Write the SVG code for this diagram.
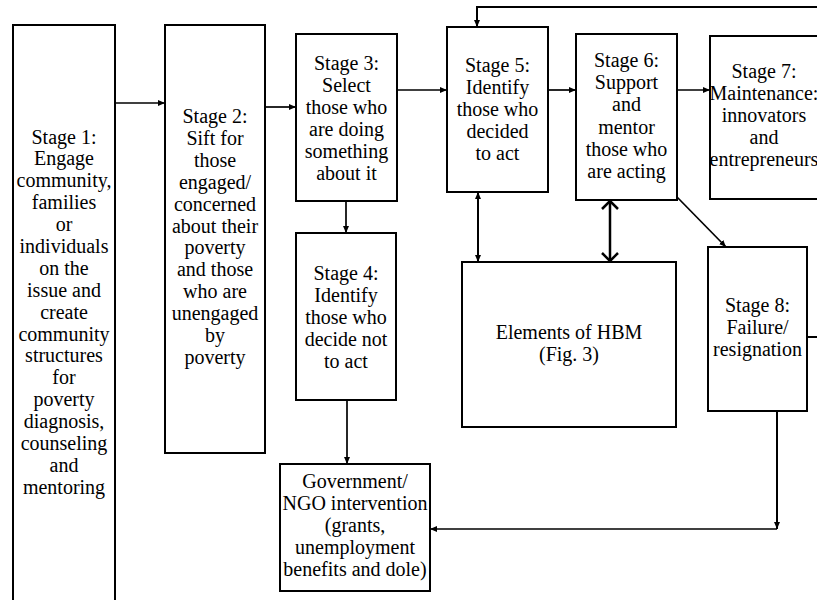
<svg xmlns="http://www.w3.org/2000/svg" width="817" height="600" viewBox="0 0 817 600">
<defs>
<marker id="ah" markerUnits="userSpaceOnUse" markerWidth="7" markerHeight="6" refX="7" refY="3" orient="auto-start-reverse">
<path d="M0,0 L7,3 L0,6 z" fill="#000"/>
</marker>
<marker id="vh" markerUnits="userSpaceOnUse" markerWidth="12" markerHeight="18" refX="10" refY="9" orient="auto-start-reverse">
<path d="M2,1 L10,9 L2,17" fill="none" stroke="#000" stroke-width="2.5"/>
</marker>
</defs>
<rect width="817" height="600" fill="#fff"/>
<g id="connectors" fill="none" stroke="#000" stroke-width="1.7">
<path d="M115,103 H165" marker-end="url(#ah)"/>
<path d="M265,107 H296" marker-end="url(#ah)"/>
<path d="M397,90 H447" marker-end="url(#ah)"/>
<path d="M346,201 V233" marker-end="url(#ah)"/>
<path d="M548,90 H576" marker-end="url(#ah)"/>
<path d="M677,90 H710" marker-end="url(#ah)"/>
<path d="M677,197 L726,247" marker-end="url(#ah)"/>
<path d="M478,192 V262" stroke-width="2" marker-start="url(#ah)" marker-end="url(#ah)"/>
<path d="M610,201 V261" stroke-width="2.5" marker-start="url(#vh)" marker-end="url(#vh)"/>
<path d="M347,400 V464" marker-end="url(#ah)"/>
<path d="M807,337 H819 V7 H477 V27" stroke-width="2" marker-end="url(#ah)"/>
<path d="M777,411 V529" stroke-width="2" marker-end="url(#ah)"/>
<path d="M777,529 H430" marker-end="url(#ah)"/>
</g>
<g font-family="Liberation Serif, serif" font-size="20" text-anchor="middle" fill="#000">
<g id="stage1">
<rect x="13" y="25" width="102" height="600" fill="#fff" stroke="#000" stroke-width="2"/>
<text x="64" y="143.5">Stage 1:<tspan x="64" dy="21.9">Engage</tspan><tspan x="64" dy="21.9">community,</tspan><tspan x="64" dy="21.9">families</tspan><tspan x="64" dy="21.9">or</tspan><tspan x="64" dy="21.9">individuals</tspan><tspan x="64" dy="21.9">on the</tspan><tspan x="64" dy="21.9">issue and</tspan><tspan x="64" dy="21.9">create</tspan><tspan x="64" dy="21.9">community</tspan><tspan x="64" dy="21.9">structures</tspan><tspan x="64" dy="21.9">for</tspan><tspan x="64" dy="21.9">poverty</tspan><tspan x="64" dy="21.9">diagnosis,</tspan><tspan x="64" dy="21.9">counseling</tspan><tspan x="64" dy="21.9">and</tspan><tspan x="64" dy="21.9">mentoring</tspan></text>
</g>
<g id="stage2">
<rect x="165" y="25" width="100" height="428" fill="#fff" stroke="#000" stroke-width="2"/>
<text x="215" y="123">Stage 2:<tspan x="215" dy="21.9">Sift for</tspan><tspan x="215" dy="21.9">those</tspan><tspan x="215" dy="21.9">engaged/</tspan><tspan x="215" dy="21.9">concerned</tspan><tspan x="215" dy="21.9">about their</tspan><tspan x="215" dy="21.9">poverty</tspan><tspan x="215" dy="21.9">and those</tspan><tspan x="215" dy="21.9">who are</tspan><tspan x="215" dy="21.9">unengaged</tspan><tspan x="215" dy="21.9">by</tspan><tspan x="215" dy="21.9">poverty</tspan></text>
</g>
<g id="stage3">
<rect x="296" y="34" width="101" height="167" fill="#fff" stroke="#000" stroke-width="2"/>
<text x="346.5" y="70">Stage 3:<tspan x="346.5" dy="21.9">Select</tspan><tspan x="346.5" dy="21.9">those who</tspan><tspan x="346.5" dy="21.9">are doing</tspan><tspan x="346.5" dy="21.9">something</tspan><tspan x="346.5" dy="21.9">about it</tspan></text>
</g>
<g id="stage4">
<rect x="296" y="233" width="100" height="167" fill="#fff" stroke="#000" stroke-width="2"/>
<text x="346" y="280">Stage 4:<tspan x="346" dy="21.9">Identify</tspan><tspan x="346" dy="21.9">those who</tspan><tspan x="346" dy="21.9">decide not</tspan><tspan x="346" dy="21.9">to act</tspan></text>
</g>
<g id="stage5">
<rect x="447" y="27" width="101" height="165" fill="#fff" stroke="#000" stroke-width="2"/>
<text x="497.5" y="72">Stage 5:<tspan x="497.5" dy="21.9">Identify</tspan><tspan x="497.5" dy="21.9">those who</tspan><tspan x="497.5" dy="21.9">decided</tspan><tspan x="497.5" dy="21.9">to act</tspan></text>
</g>
<g id="stage6">
<rect x="576" y="34" width="101" height="166" fill="#fff" stroke="#000" stroke-width="2"/>
<text x="626.5" y="67">Stage 6:<tspan x="626.5" dy="22.2">Support</tspan><tspan x="626.5" dy="22.2">and</tspan><tspan x="626.5" dy="22.2">mentor</tspan><tspan x="626.5" dy="22.2">those who</tspan><tspan x="626.5" dy="22.2">are acting</tspan></text>
</g>
<g id="stage7">
<rect x="710" y="36" width="112" height="163" fill="#fff" stroke="#000" stroke-width="2"/>
<text x="764" y="78">Stage 7:<tspan x="764" dy="22">Maintenance:</tspan><tspan x="764" dy="22">innovators</tspan><tspan x="764" dy="22">and</tspan><tspan x="764" dy="22">entrepreneurs</tspan></text>
</g>
<g id="stage8">
<rect x="708" y="247" width="99" height="164" fill="#fff" stroke="#000" stroke-width="2"/>
<text x="757.5" y="312">Stage 8:<tspan x="757.5" dy="22">Failure/</tspan><tspan x="757.5" dy="22">resignation</tspan></text>
</g>
<g id="hbm">
<rect x="462" y="262" width="214" height="165" fill="#fff" stroke="#000" stroke-width="2"/>
<text x="569" y="339">Elements of HBM<tspan x="569" dy="22">(Fig. 3)</tspan></text>
</g>
<g id="gov">
<rect x="280" y="464" width="150" height="127" fill="#fff" stroke="#000" stroke-width="2"/>
<text x="355" y="488">Government/<tspan x="355" dy="21.9">NGO intervention</tspan><tspan x="355" dy="21.9">(grants,</tspan><tspan x="355" dy="21.9">unemployment</tspan><tspan x="355" dy="21.9">benefits and dole)</tspan></text>
</g>
</g>
</svg>
